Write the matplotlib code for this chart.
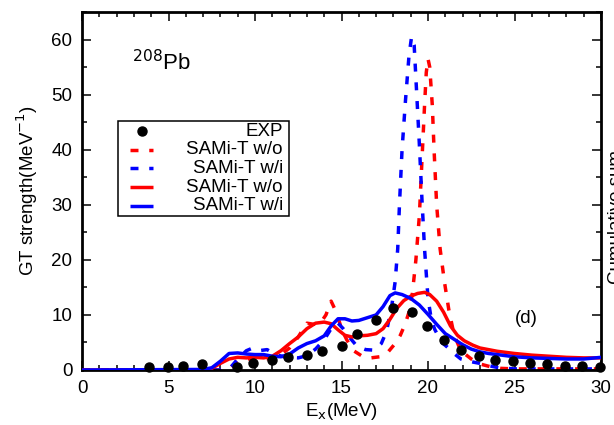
import matplotlib
matplotlib.use("Agg")
import matplotlib.pyplot as plt
from matplotlib.patches import Rectangle
from matplotlib.ticker import MultipleLocator

plt.rcParams['font.family'] = ['Liberation Sans', 'DejaVu Sans']
FS = 13.5

# Experimental GT strength (MeV^-1)
exp_x = [3.85, 4.95, 5.85, 6.95, 8.95, 9.9, 11.0, 11.9, 13.0, 13.9, 15.0, 15.9,
         17.0, 17.95, 19.05, 19.95, 20.95, 21.9, 22.95, 23.85, 24.9, 25.9, 26.9,
         27.9, 28.9, 29.95]
exp_y = [0.5, 0.6, 0.8, 1.0, 0.6, 1.2, 1.9, 2.3, 2.8, 3.4, 4.3, 6.5,
         9.1, 11.3, 10.5, 8.0, 5.5, 3.7, 2.6, 1.9, 1.6, 1.2, 1.0,
         0.8, 0.7, 0.6]

# SAMi-T without tensor, discrete (dashed)
wo_d_x = [0.0, 8.0, 8.5, 9.0, 9.5, 10.0, 10.5, 11.0, 11.5, 12.0, 12.5, 13.0, 13.4,
          13.8, 14.1, 14.4, 14.7, 15.0, 15.3, 15.7, 16.2, 16.7, 17.2, 17.7, 18.1,
          18.4, 18.7, 18.9, 19.1, 19.3, 19.5, 19.65, 19.8, 19.9, 20.0, 20.1, 20.25,
          20.35, 20.5, 20.7, 20.95, 21.2, 21.5, 21.8, 22.1, 22.5, 23.0, 23.6, 24.2,
          25.0, 30.0]
wo_d_y = [0.0, 0.0, 0.3, 1.5, 2.0, 2.1, 2.0, 2.1, 2.8, 4.0, 6.0, 8.5, 8.3,
          8.6, 10.0, 12.5, 10.5, 7.5, 5.5, 3.5, 2.5, 2.2, 2.4, 3.3, 4.8,
          6.3, 8.5, 10.5, 14.0, 20.0, 28.0, 38.0, 48.0, 54.0, 56.5, 55.0, 48.0,
          40.0, 30.0, 22.0, 16.0, 11.0, 6.5, 4.2, 3.0, 2.0, 1.1, 0.6, 0.3,
          0.2, 0.2]

# SAMi-T with tensor, discrete (dashed)
wi_d_x = [0.0, 8.0, 8.6, 9.0, 9.5, 9.8, 10.2, 10.7, 11.2, 11.8, 12.5, 13.0, 13.5,
          14.0, 14.5, 14.8, 15.1, 15.5, 15.9, 16.4, 16.9, 17.3, 17.6, 17.9, 18.1,
          18.25, 18.35, 18.5, 18.7, 18.9, 19.05, 19.2, 19.35, 19.5, 19.65, 19.8,
          20.0, 20.2, 20.4, 20.8, 21.1, 21.5, 21.9, 22.5, 23.0, 23.5, 24.1, 25.0,
          30.0]
wi_d_y = [0.0, 0.0, 0.5, 2.0, 3.5, 3.9, 3.5, 3.7, 2.8, 2.3, 2.2, 2.6, 3.8,
          5.5, 8.0, 8.5, 7.5, 5.8, 4.3, 3.7, 3.6, 4.8, 7.0, 11.5, 16.0,
          22.0, 30.0, 40.0, 49.0, 57.0, 60.5, 59.0, 50.0, 41.0, 31.0, 22.0,
          13.0, 9.0, 7.3, 5.0, 4.2, 3.0, 2.0, 1.5, 1.2, 0.8, 0.4, 0.2,
          0.2]

# SAMi-T without tensor, smoothed (solid)
wo_s_x = [0.0, 7.0, 7.5, 8.0, 8.5, 9.0, 9.5, 10.0, 10.5, 11.0, 11.5, 12.0, 12.5,
          13.0, 13.5, 14.0, 14.4, 14.8, 15.2, 15.6, 16.0, 16.5, 17.0, 17.4, 17.8,
          18.2, 18.6, 19.0, 19.4, 19.8, 20.1, 20.5, 20.9, 21.3, 21.7, 22.1, 22.6,
          23.0, 23.5, 24.0, 25.0, 26.0, 27.0, 28.0, 29.0, 30.0]
wo_s_y = [0.0, 0.0, 0.3, 1.2, 2.0, 2.3, 2.2, 2.3, 2.2, 2.5, 3.5, 4.8, 6.0,
          7.5, 8.5, 8.7, 8.4, 7.3, 6.3, 6.0, 6.2, 6.3, 6.6, 7.5, 9.2,
          11.2, 12.6, 13.4, 13.9, 14.1, 13.7, 12.5, 10.5, 8.0, 6.3, 5.3, 4.5,
          4.0, 3.7, 3.4, 3.0, 2.7, 2.5, 2.3, 2.2, 2.2]

# SAMi-T with tensor, smoothed (solid)
wi_s_x = [0.0, 7.0, 7.5, 8.0, 8.5, 9.0, 9.5, 10.0, 10.5, 11.0, 11.5, 12.0, 12.5,
          13.0, 13.5, 14.0, 14.4, 14.8, 15.2, 15.6, 16.0, 16.5, 17.0, 17.4, 17.8,
          18.1, 18.5, 19.0, 19.5, 20.0, 20.5, 21.0, 21.5, 22.0, 22.5, 23.0, 23.5,
          24.0, 25.0, 26.0, 27.0, 28.0, 29.0, 30.0]
wi_s_y = [0.0, 0.1, 0.4, 1.6, 3.0, 3.1, 2.9, 2.8, 2.8, 2.5, 2.4, 2.9, 4.0,
          4.8, 5.3, 6.2, 8.0, 9.3, 9.3, 8.9, 9.0, 9.5, 10.0, 11.5, 13.5,
          14.0, 13.7, 13.0, 11.8, 10.1, 8.3, 6.6, 5.6, 4.6, 3.8, 3.3, 3.0,
          2.8, 2.4, 2.2, 2.1, 2.0, 2.0, 2.3]

x_ticks = [0, 5, 10, 15, 20, 25, 30]
y_ticks = [0, 10, 20, 30, 40, 50, 60]

RED = '#ff0000'
BLUE = '#0000ff'
LW = 2.5
DASH = (0, (2.3, 3.1))

fig = plt.figure(figsize=(6.14, 4.25), dpi=100)
ax = fig.add_axes([82 / 614, 1 - 370 / 425, 519 / 614, 358 / 425])

ax.plot(wo_d_x, wo_d_y, color=RED, lw=LW, linestyle=DASH, zorder=2)
ax.plot(wi_d_x, wi_d_y, color=BLUE, lw=LW, linestyle=DASH, zorder=2)
ax.plot(wo_s_x, wo_s_y, color=RED, lw=LW, zorder=3)
ax.plot(wi_s_x, wi_s_y, color=BLUE, lw=LW, zorder=3)
ax.plot(exp_x, exp_y, 'o', color='black', ms=6.5, zorder=4, clip_on=False)

ax.set_xlim(0, 30)
ax.set_ylim(0, 65)
ax.set_xticks(x_ticks)
ax.set_yticks(y_ticks)
ax.xaxis.set_minor_locator(MultipleLocator(1))
ax.yaxis.set_minor_locator(MultipleLocator(5))
ax.tick_params(which='both', direction='in', top=True, right=True,
               labelsize=FS, width=1.1)
ax.tick_params(which='major', length=6.5, pad=7)
ax.tick_params(which='minor', length=3.5)
for s in ax.spines.values():
    s.set_linewidth(2.0)

ax.set_xlabel(r'E$_\mathrm{x}$(MeV)', fontsize=FS, labelpad=3)
ax.set_ylabel(r'GT strength(MeV$^{\mathrm{-1}}$)', fontsize=FS, labelpad=8)

ax.text(2.9, 55.8, r'$^{\mathrm{208}}$Pb', fontsize=16, ha='left', va='center')
ax.text(25.7, 9.4, '(d)', fontsize=FS, ha='center', va='center')

# Legend box drawn in axes coordinates with right-aligned labels
lx0, lx1 = (118 - 82) / 519, (289 - 82) / 519
ly0, ly1 = (370 - 216) / 358, (370 - 121) / 358
ax.add_patch(Rectangle((lx0, ly0), lx1 - lx0, ly1 - ly0, transform=ax.transAxes,
                       facecolor='white', edgecolor='black', lw=1.1, zorder=10))
entries = [
    ('EXP', dict(color='black', marker='o', ms=6.5, linestyle='none')),
    ('SAMi-T w/o', dict(color=RED, lw=LW, linestyle=DASH)),
    ('SAMi-T w/i', dict(color=BLUE, lw=LW, linestyle=DASH)),
    ('SAMi-T w/o', dict(color=RED, lw=LW)),
    ('SAMi-T w/i', dict(color=BLUE, lw=LW)),
]
hx0, hx1 = (130 - 82) / 519, (153 - 82) / 519
tx = (283 - 82) / 519
for i, (label, style) in enumerate(entries):
    yy = (370 - (131 + 18.7 * i)) / 358
    if style.get('marker'):
        ax.plot([(hx0 + hx1) / 2], [yy], transform=ax.transAxes, zorder=11,
                clip_on=False, **style)
    else:
        ax.plot([hx0, hx1], [yy, yy], transform=ax.transAxes, zorder=11,
                clip_on=False, solid_capstyle='butt', dash_capstyle='butt', **style)
    ax.text(tx, yy, label, transform=ax.transAxes, fontsize=FS, ha='right',
            va='center', zorder=12)

fig.text(608 / 614, 208 / 425, 'Cumulative sum', rotation=90, fontsize=FS,
         ha='left', va='center')

fig.savefig('out.png', dpi=100)
